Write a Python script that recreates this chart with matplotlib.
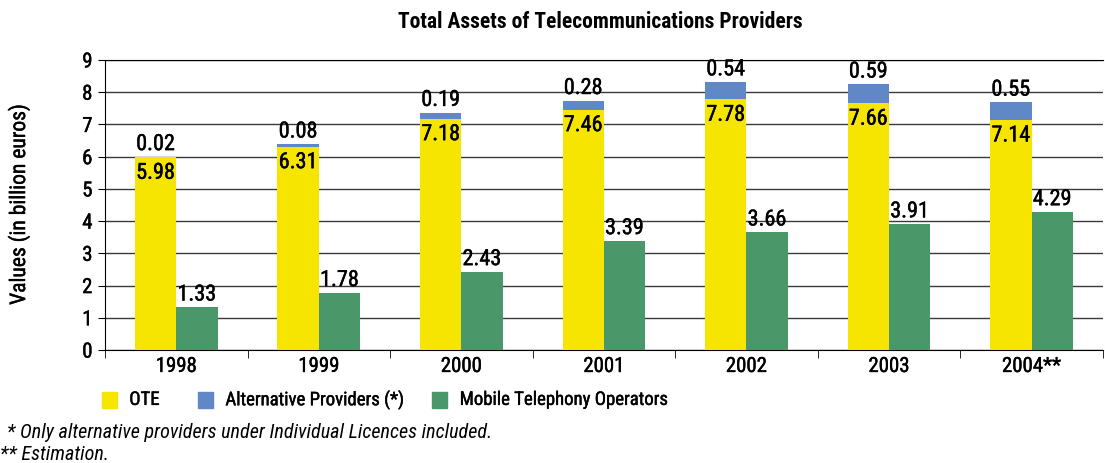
import numpy as np
import matplotlib
matplotlib.use("Agg")
from matplotlib import pyplot as plt
from matplotlib import font_manager
from matplotlib import patheffects as pe
from matplotlib.patches import Rectangle

#pick a narrow font if one is there
names = set(f.name for f in font_manager.fontManager.ttflist)
font = 'DejaVu Sans'
for cand in ['Liberation Sans Narrow', 'Roboto Condensed', 'DejaVu Sans Condensed', 'Open Sans Condensed', 'Roboto']:
    if cand in names:
        font = cand
        break
plt.rcParams['font.family'] = [font, 'DejaVu Sans']

years = ['1998', '1999', '2000', '2001', '2002', '2003', '2004**']
ote = [5.98, 6.31, 7.18, 7.46, 7.78, 7.66, 7.14]
alt = [0.02, 0.08, 0.19, 0.28, 0.54, 0.59, 0.55]
mobile = [1.33, 1.78, 2.43, 3.39, 3.66, 3.91, 4.29]

yellow = '#F5E500'
blue = '#6088C6'
green = '#4A9769'

#a bit heavier than regular, lighter than bold
thick = [pe.withStroke(linewidth=0.3, foreground='black')]

fig = plt.figure(figsize=(11.05, 4.64), dpi=100)
ax = fig.add_axes([0.095, 0.2435, 0.903, 0.625])

x = np.arange(len(years))
w = 0.29
ax.bar(x - w/2, ote, w, color=yellow, zorder=3)
ax.bar(x - w/2, alt, w, bottom=ote, color=blue, zorder=3)
ax.bar(x + w/2, mobile, w, color=green, zorder=3)

#value labels
for i in range(len(years)):
    ax.text(x[i] - w/2, ote[i] - 0.17, f"{ote[i]:.2f}", ha='center', va='top',
            fontsize=16, zorder=4, path_effects=thick)
    ax.text(x[i] - w/2, ote[i] + alt[i] + 0.05, f"{alt[i]:.2f}", ha='center',
            va='bottom', fontsize=16, zorder=4, path_effects=thick)
    ax.text(x[i] + w/2, mobile[i] + 0.05, f"{mobile[i]:.2f}", ha='center',
            va='bottom', fontsize=16, zorder=4, path_effects=thick)

ax.set_xlim(-0.5, len(years) - 0.5)
ax.set_ylim(0, 9)
ax.set_yticks(range(10))
ax.set_xticks(x)
ax.set_xticklabels(years, fontsize=15)
ax.set_xticks(np.arange(len(years) + 1) - 0.5, minor=True)
ax.tick_params(axis='x', which='major', length=0, pad=5)
ax.tick_params(axis='x', which='minor', length=6, direction='out')
ax.tick_params(axis='y', labelsize=15, length=5, pad=4)
for t in ax.get_xticklabels() + ax.get_yticklabels():
    t.set_path_effects(thick)
ax.grid(axis='y', color='#3a3a3a', linewidth=1, zorder=0)
ax.spines['right'].set_visible(False)
ax.set_ylabel("Values (in billion euros)", fontsize=15.5, path_effects=thick)
ax.yaxis.set_label_coords(-0.075, 0.5)

fig.text(0.543, 0.953, "Total Assets of Telecommunications Providers", ha='center',
         va='center', fontsize=15.5, fontweight='bold')

#legend
items = [(yellow, "OTE", 0.092), (blue, "Alternative Providers (*)", 0.179),
         (green, "Mobile Telephony Operators", 0.391)]
for c, lab, px in items:
    fig.patches.append(Rectangle((px, 0.118), 0.0135, 0.034, color=c,
                                 transform=fig.transFigure, figure=fig))
    fig.text(px + 0.025, 0.136, lab, va='center', fontsize=13.5, path_effects=thick)

fig.text(0.006, 0.068, "* Only alternative providers under Individual Licences included.",
         fontsize=14.5, style='italic', va='center')
fig.text(0.0, 0.02, "** Estimation.", fontsize=14.5, style='italic', va='center')

fig.savefig("out.png", dpi=100)
